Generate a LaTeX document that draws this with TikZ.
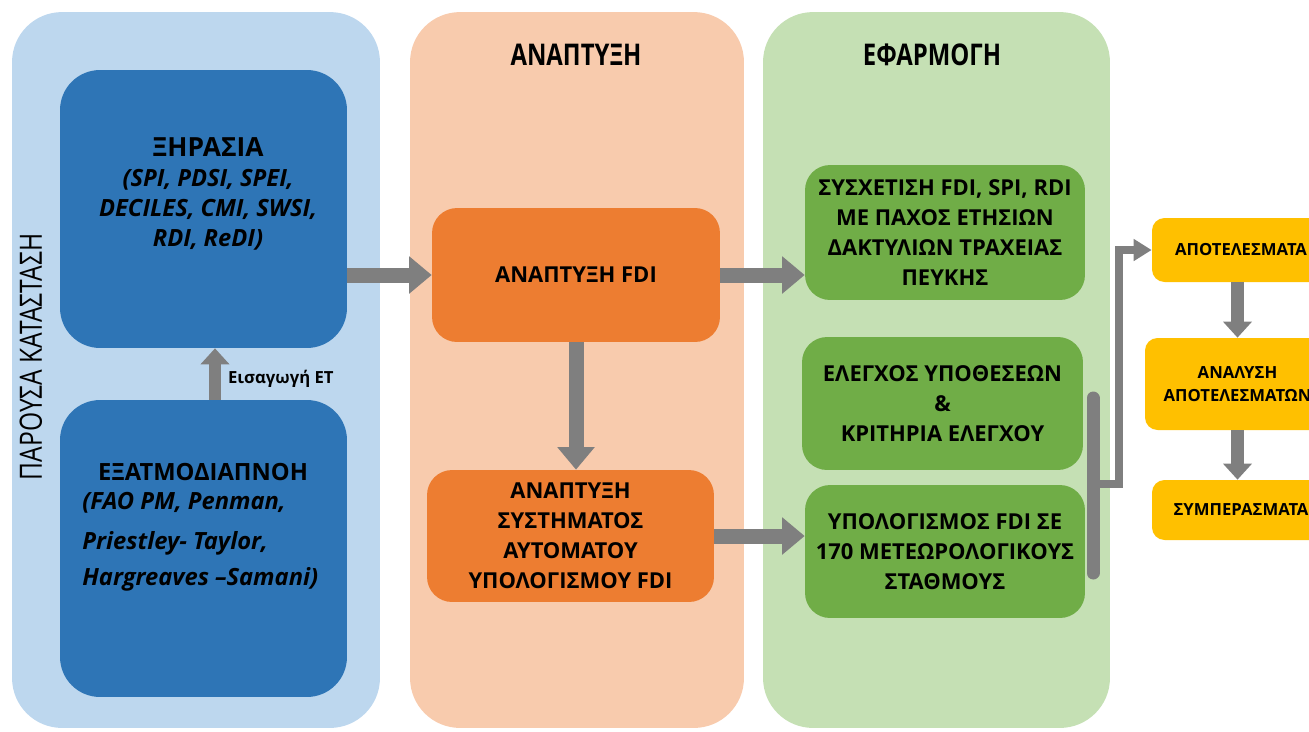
\documentclass[tikz,border=0pt]{standalone}
\usepackage{fontspec}
\setmainfont{Open Sans}
\newfontfamily\narrowfont[FakeStretch=0.8]{Open Sans}
\usetikzlibrary{arrows.meta, positioning}
\definecolor{paleblue}{HTML}{BDD7EE}
\definecolor{palepeach}{HTML}{F8CBAD}
\definecolor{palegreen}{HTML}{C5E0B4}
\definecolor{boxblue}{HTML}{2E75B6}
\definecolor{boxorange}{HTML}{ED7D31}
\definecolor{boxgreen}{HTML}{70AD47}
\definecolor{boxyellow}{HTML}{FFC000}
\definecolor{arrowgray}{HTML}{7F7F7F}
\tikzset{
    panel/.style={rounded corners=1cm, inner sep=0pt}, % the three big background columns
    bigbox/.style={fill=boxblue, rounded corners=0.8cm, inner sep=0pt}, % blue boxes on the left
    box/.style={rounded corners=0.5cm, inner sep=0pt, align=center,
        font=\bfseries\fontsize{12.5}{17}\selectfont}, % orange and green boxes
    resbox/.style={fill=boxyellow, rounded corners=0.25cm, inner sep=0pt, align=center,
        font=\bfseries\fontsize{9.5}{13}\selectfont}, % yellow boxes on the right
    title/.style={font=\narrowfont\bfseries\fontsize{17}{20}\selectfont}, % column titles
    bigarrow/.style={draw=arrowgray, line width=0.3cm, -{Triangle[length=0.45cm, width=0.72cm]}},
    midarrow/.style={draw=arrowgray, line width=0.25cm, -{Triangle[length=0.32cm, width=0.56cm]}},
    thinarrow/.style={draw=arrowgray, line width=0.16cm, -{Triangle[length=0.36cm, width=0.42cm]}},
}

\begin{document}
\begin{tikzpicture}[x=0.02cm, y=-0.02cm]
    \useasboundingbox (0,0) rectangle (1309,731);
    % background columns
    \node[panel, fill=paleblue, minimum width=7.36cm, minimum height=14.32cm] (now) at (196,370) {};
    \node[panel, fill=palepeach, minimum width=6.68cm, minimum height=14.32cm] (dev) at (577,370) {};
    \node[panel, fill=palegreen, minimum width=6.94cm, minimum height=14.32cm] (app) at (936.5,370) {};
    \node[rotate=90, font=\narrowfont\fontsize{17.5}{20}\selectfont] (nowtitle) at (31,357) {ΠΑΡΟΥΣΑ ΚΑΤΑΣΤΑΣΗ};
    \node[title] (devtitle) at (576,55) {ΑΝΑΠΤΥΞΗ};
    \node[title] (apptitle) at (932,55) {ΕΦΑΡΜΟΓΗ};

    % left column
    \node[bigbox, minimum width=5.74cm, minimum height=5.56cm] (xer) at (203.5,209) {};
    \node[align=center, font=\bfseries\fontsize{13.5}{17}\selectfont] (xertxt) at (208,194)
        {{\fontsize{15}{17}\selectfont ΞΗΡΑΣΙΑ}\\ \textit{(SPI, PDSI, SPEI,}\\ \textit{DECILES, CMI, SWSI,}\\ \textit{RDI, ReDI)}};
    \node[bigbox, minimum width=5.74cm, minimum height=5.94cm] (evt) at (203.5,548.5) {};
    \node[font=\bfseries\fontsize{13.5}{17}\selectfont] (evttxt) at (203,472) {ΕΞΑΤΜΟΔΙΑΠΝΟΗ};
    \node[anchor=base west, inner sep=0pt, font=\bfseries\itshape\fontsize{13.5}{17}\selectfont] (evt1) at (82,509) {(FAO PM, Penman,};
    \node[anchor=base west, inner sep=0pt, font=\bfseries\itshape\fontsize{13.5}{17}\selectfont] (evt2) at (82,549) {Priestley- Taylor,};
    \node[anchor=base west, inner sep=0pt, font=\bfseries\itshape\fontsize{13.5}{17}\selectfont] (evt3) at (82,585) {Hargreaves –Samani)};

    % middle column
    \node[box, fill=boxorange, minimum width=5.76cm, minimum height=2.68cm] (anfdi) at (576,275) {ΑΝΑΠΤΥΞΗ FDI};
    \node[box, fill=boxorange, minimum width=5.74cm, minimum height=2.64cm] (asys) at (570.5,536)
        {ΑΝΑΠΤΥΞΗ\\ ΣΥΣΤΗΜΑΤΟΣ\\ ΑΥΤΟΜΑΤΟΥ\\ ΥΠΟΛΟΓΙΣΜΟΥ FDI};

    % right column
    \node[box, fill=boxgreen, minimum width=5.6cm, minimum height=2.7cm] (sysx) at (945,232.5)
        {ΣΥΣΧΕΤΙΣΗ FDI, SPI, RDI\\ ΜΕ ΠΑΧΟΣ ΕΤΗΣΙΩΝ\\ ΔΑΚΤΥΛΙΩΝ ΤΡΑΧΕΙΑΣ\\ ΠΕΥΚΗΣ};
    \node[box, fill=boxgreen, minimum width=5.62cm, minimum height=2.66cm] (eleg) at (942.5,403.5)
        {ΕΛΕΓΧΟΣ ΥΠΟΘΕΣΕΩΝ\\ \&\\ ΚΡΙΤΗΡΙΑ ΕΛΕΓΧΟΥ};
    \node[box, fill=boxgreen, minimum width=5.6cm, minimum height=2.66cm] (ypol) at (945,551.5)
        {ΥΠΟΛΟΓΙΣΜΟΣ FDI ΣΕ\\ 170 ΜΕΤΕΩΡΟΛΟΓΙΚΟΥΣ\\ ΣΤΑΘΜΟΥΣ};

    % results
    \node[resbox, minimum width=3.56cm, minimum height=1.28cm] (apot) at (1241,250) {ΑΠΟΤΕΛΕΣΜΑΤΑ};
    \node[resbox, minimum width=3.7cm, minimum height=1.84cm] (anal) at (1237.5,384) {ΑΝΑΛΥΣΗ\\ ΑΠΟΤΕΛΕΣΜΑΤΩΝ};
    \node[resbox, minimum width=3.56cm, minimum height=1.2cm] (symp) at (1241,510) {ΣΥΜΠΕΡΑΣΜΑΤΑ};

    % arrows
    \draw[midarrow] ([xshift=0.23cm]evt.north) -- ([xshift=0.23cm]xer.south)
        node[pos=0.4, right=0.02cm, font=\bfseries\fontsize{9.5}{11}\selectfont] (etlabel) {Εισαγωγή ΕΤ};
    \draw[bigarrow] (xer.east |- anfdi.west) -- (anfdi.west);
    \draw[bigarrow] (anfdi.south) -- (anfdi.south |- asys.north);
    \draw[bigarrow] (anfdi.east) -- (anfdi.east -| sysx.west);
    \draw[bigarrow] (asys.east) -- (asys.east -| ypol.west);
    \coordinate (brtop) at (1093,398);
    \coordinate (brbot) at (1093,573);
    \coordinate (brmid) at (1093,484);
    \draw[arrowgray, line width=0.26cm, line cap=round] (brtop) -- (brbot);
    \draw[thinarrow] (brmid) -- ++(26,0) |- (apot.west);
    \draw[midarrow] (anal.north |- apot.south) -- (anal.north);
    \draw[midarrow] (anal.south) -- (anal.south |- symp.north);
\end{tikzpicture}
\end{document}
